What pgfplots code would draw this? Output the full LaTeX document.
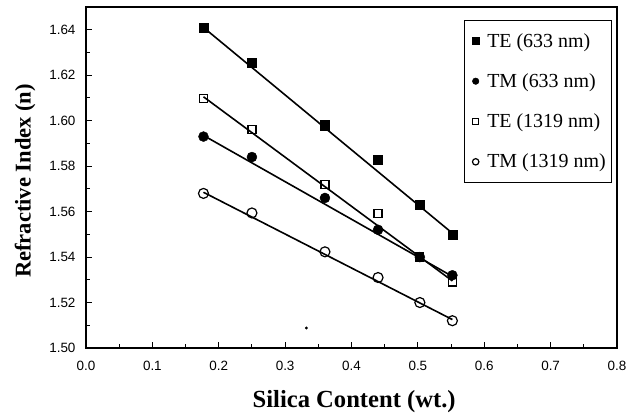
\documentclass[border=0pt]{standalone}
\usepackage{fontspec}
\setmainfont{Liberation Serif}
\setsansfont{Liberation Sans}
\usepackage{pgfplots}
\pgfplotsset{compat=1.18}
\begin{document}
\begin{tikzpicture}
\begin{axis}[
  name=ax,
  scale only axis,
  width=531bp, height=341bp,
  xmin=0, xmax=0.8, ymin=1.50, ymax=1.65,
  xtick={0,0.1,...,0.8}, ytick={1.50,1.52,...,1.641},
  minor x tick num=1, minor y tick num=1,
  tick pos=left, tick align=inside,
  major tick length=6bp, minor tick length=4bp,
  axis line style={line width=2.4bp},
  every tick/.style={line width=1bp, black},
  /pgf/number format/assume math mode=true,
  xticklabel style={/pgf/number format/.cd, fixed, fixed zerofill, precision=1},
  yticklabel style={/pgf/number format/.cd, fixed, fixed zerofill, precision=2},
  ticklabel style={font=\sffamily\fontsize{13.5}{15}\selectfont},
  xticklabel shift=10bp, yticklabel shift=7bp,
  xlabel={\bfseries\fontsize{24.7}{28}\selectfont Silica Content (wt.)},
  ylabel={\bfseries\fontsize{22.6}{26}\selectfont Refractive Index (n)},
  xlabel style={at={(axis description cs:0.505,0)}, anchor=north, yshift=-39bp},
  ylabel style={at={(axis description cs:0,0.49)}, anchor=south, yshift=47bp},
  legend style={at={(0.9906,0.962)}, anchor=north east, draw=black, line width=0.6bp,
    font=\fontsize{20}{24}\selectfont, row sep=21bp, inner xsep=4bp, inner ysep=11bp},
  legend cell align=left,
  legend image post style={mark size=3.2bp},
  legend image code/.code={\path (0bp,0bp) (16bp,0bp); \draw[#1] plot coordinates {(7bp,0bp)};},
]
% fit lines
\addplot[black, line width=1.6bp, forget plot] coordinates {(0.177,1.641) (0.552,1.5505)};
\addplot[black, line width=1.6bp, forget plot] coordinates {(0.177,1.5935) (0.552,1.5315)};
\addplot[black, line width=1.6bp, forget plot] coordinates {(0.177,1.6105) (0.552,1.5295)};
\addplot[black, line width=1.6bp, forget plot] coordinates {(0.177,1.5685) (0.552,1.5125)};
% data
\addplot[only marks, mark=square*, mark size=4.6bp, black] coordinates {
 (0.177,1.641) (0.250,1.6255) (0.360,1.598) (0.440,1.583) (0.503,1.563) (0.552,1.550)};
\addlegendentry{TE (633 nm)}
\addplot[only marks, mark=*, mark size=5bp, black] coordinates {
 (0.177,1.593) (0.250,1.584) (0.360,1.566) (0.440,1.552) (0.503,1.540) (0.552,1.532)};
\addlegendentry{TM (633 nm)}
\addplot[only marks, mark=square, mark size=4bp, black, fill=white, line width=1.2bp] coordinates {
 (0.177,1.6096) (0.250,1.596) (0.360,1.572) (0.440,1.559) (0.503,1.540) (0.552,1.529)};
\addlegendentry{TE (1319 nm)}
\addplot[only marks, mark=o, mark size=5bp, black, line width=1.2bp] coordinates {
 (0.177,1.568) (0.250,1.5594) (0.360,1.5423) (0.440,1.531) (0.503,1.520) (0.552,1.512)};
\addlegendentry{TM (1319 nm)}
% stray dot
\addplot[only marks, mark=*, mark size=1.3bp, black, forget plot] coordinates {(0.332,1.5088)};
\end{axis}
\path ([shift={(-86bp,-67bp)}]ax.south west) rectangle ++(639bp,415bp);
\end{tikzpicture}
\end{document}
